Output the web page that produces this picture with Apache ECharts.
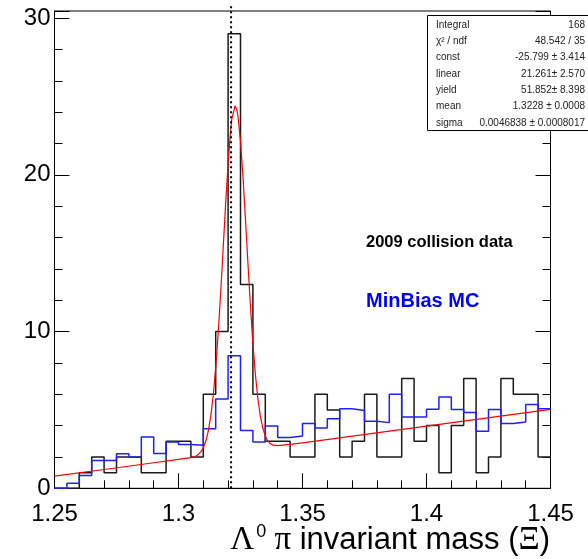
<!DOCTYPE html>
<html><head><meta charset="utf-8">
<script src="https://cdn.jsdelivr.net/npm/echarts@6/dist/echarts.min.js"></script>
<style>html,body{margin:0;padding:0;background:#fff}#c{width:588px;height:559px}</style>
</head><body><div id="c"></div>
<script>
// ---- data ----
const xMin = 1.25, xMax = 1.45, binWidth = 0.005;
const dataCounts = [0,0,1,2,1,2,2,1,1,3,3,2,6,10,29,13,6,3,3,2,2,6,5,2,3,6,2,2,7,3,4,1,4,7,1,2,7,6,6,2];
const mcCounts = [0,0.32,0.82,1.78,1.78,2.2,1.98,3.28,2.22,2.95,2.8,2.75,3.8,5.7,8.45,3.68,2.96,3.98,3.24,3.33,4.13,3.85,4.44,5.08,4.97,4.27,4.19,6.0,4.55,4.55,5.04,5.82,5.02,4.83,3.64,5.02,4.13,4.23,5.35,5.08];
const fitX = [1.25,1.27,1.29,1.30,1.305,1.307,1.308,1.309,1.310,1.311,1.312,1.313,1.314,1.315,1.316,1.317,1.318,1.319,1.320,1.321,1.3215,1.3228,1.3235,1.324,1.325,1.326,1.327,1.328,1.329,1.330,1.331,1.332,1.333,1.334,1.335,1.336,1.337,1.338,1.340,1.345,1.35,1.40,1.45];
const fitY = [0.78,1.20,1.63,1.84,1.96,2.06,2.16,2.32,2.58,3.00,3.64,4.59,5.92,7.68,9.88,12.46,15.28,18.13,20.74,22.80,23.55,24.41,24.17,23.72,22.15,19.87,17.18,14.36,11.65,9.26,7.27,5.73,4.60,3.83,3.33,3.02,2.85,2.76,2.72,2.80,2.90,3.97,5.03];
const xiMass = 1.3212;
const xiLineTop = 30.95;
const yMax = 30.45;
const xTickLabels = ['1.25','1.3','1.35','1.4','1.45'];
const yTickLabels = ['0','10','20','30'];
const statsLabels = ['Integral','χ² / ndf','const','linear','yield','mean','sigma'];
const statsValues = ['168','48.542 / 35','-25.799 ± 3.414','21.261± 2.570','51.852± 8.398','1.3228 ± 0.0008','0.0046838 ± 0.0008017'];
const dataLabel = '2009 collision data';
const mcLabel = 'MinBias MC';

// ---- build histogram outlines ----
function histPoints(vals){
  const pts = vals.map((v,i)=>[+(xMin + i*binWidth).toFixed(4), v]);
  pts.push([xMax, vals[vals.length-1]]);
  return pts;
}
const fitData = fitX.map((x,i)=>[x, fitY[i]]);

const SANS = 'Liberation Sans, Arial, sans-serif';
const SERIF = 'Liberation Serif, Times New Roman, serif';

function fmtX(v){
  const s = String(+v.toFixed(4));
  return xTickLabels.includes(s) ? s : '';
}
function fmtY(v){
  const s = String(+v.toFixed(4));
  return yTickLabels.includes(s) ? s : '';
}

const baseY = {type:'value', min:0, max:yMax, splitLine:{show:false}, axisLine:{show:false}};
const chart = echarts.init(document.getElementById('c'), null, {renderer:'canvas'});
const statsGraphics = [];
statsGraphics.push({type:'rect', shape:{x:427.5, y:15.5, width:170, height:115}, style:{fill:'#fff', stroke:'#000', lineWidth:1}, z:100});
statsLabels.forEach((l,i)=>{
  const y = 25 + i*16.3;
  statsGraphics.push({type:'text', x:436, y:y, style:{text:l, font:'10px '+SANS, fill:'#222', align:'left', verticalAlign:'middle'}, z:101});
  statsGraphics.push({type:'text', x:585, y:y, style:{text:statsValues[i], font:'10px '+SANS, fill:'#222', align:'right', verticalAlign:'middle'}, z:101});
});

chart.setOption({
  animation:false,
  backgroundColor:'#fff',
  grid:{left:54.5, right:37.5, top:11, bottom:70.7, show:true, borderColor:'#000', borderWidth:1, backgroundColor:'transparent'},
  xAxis:{type:'value', min:xMin, max:xMax, interval:0.05,
    axisLine:{show:true, lineStyle:{color:'#000', width:1}},
    axisTick:{show:true, inside:true, length:15, lineStyle:{color:'#000', width:1}},
    minorTick:{show:true, splitNumber:5, length:8, lineStyle:{color:'#000', width:1}},
    splitLine:{show:false},
    axisLabel:{formatter:fmtX, fontSize:24, fontFamily:SANS, color:'#000', margin:14}
  },
  yAxis:[
    Object.assign({}, baseY, {position:'left', interval:10, axisLine:{show:true, lineStyle:{color:'#000'}},
      axisTick:{show:true, inside:true, length:15, lineStyle:{color:'#000'}},
      axisLabel:{formatter:fmtY, fontSize:24, fontFamily:SANS, color:'#000', margin:4}}),
    Object.assign({}, baseY, {position:'left', interval:2,
      axisTick:{show:true, inside:true, length:8, lineStyle:{color:'#000'}}, axisLabel:{show:false}}),
    Object.assign({}, baseY, {position:'right', interval:10,
      axisTick:{show:true, inside:true, length:15, lineStyle:{color:'#000'}}, axisLabel:{show:false}}),
    Object.assign({}, baseY, {position:'right', interval:2,
      axisTick:{show:true, inside:true, length:8, lineStyle:{color:'#000'}}, axisLabel:{show:false}})
  ],
  series:[
    {type:'line', name:'data', data:histPoints(dataCounts), step:'end', symbol:'none',
      lineStyle:{color:'#1a1a1a', width:1.5}, z:3},
    {type:'line', name:'MC', data:histPoints(mcCounts), step:'end', symbol:'none',
      lineStyle:{color:'#1f1fff', width:1.5}, z:4},
    {type:'line', name:'fit', data:fitData, symbol:'none',
      lineStyle:{color:'#ff0000', width:1.2}, z:5},
    {type:'line', name:'xi', data:[[xiMass,0],[xiMass,xiLineTop]], symbol:'none', clip:false,
      lineStyle:{color:'#000', width:2, type:[2,3]}, z:6}
  ],
  graphic: statsGraphics.concat([
    {type:'text', left:366, top:234, style:{text:dataLabel, font:'bold 16.5px '+SANS, fill:'#000'}, z:50},
    {type:'text', left:366, top:291, style:{text:mcLabel, font:'bold 20px '+SANS, fill:'#0000ff'}, z:50},
    {type:'text', x:550, y:540, z:50, style:{
      text:'{L|Λ}{s|0}{p| π}{t| invariant mass (}{L|Ξ}{t|)}',
      align:'right', verticalAlign:'middle',
      rich:{
        L:{fontFamily:SERIF, fontSize:33, fill:'#000'},
        s:{fontFamily:SANS, fontSize:18, fill:'#000', padding:[0,0,15,2]},
        p:{fontFamily:SERIF, fontSize:33, fill:'#000'},
        t:{fontFamily:SANS, fontSize:31, fill:'#000'}
      }}}
  ])
});
</script></body></html>
